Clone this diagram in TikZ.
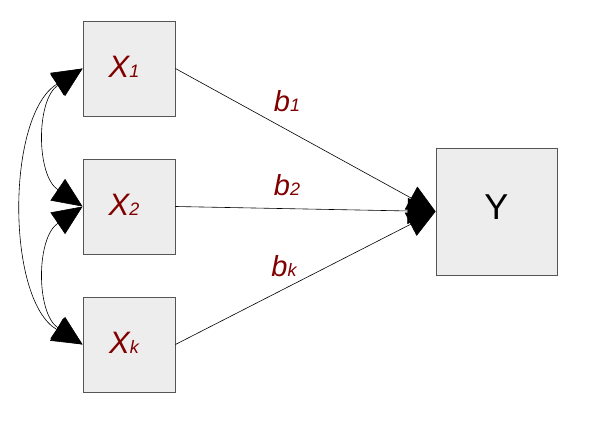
\documentclass[tikz,border=0pt]{standalone}
\usepackage{fontspec}
\setmainfont{Liberation Sans}
\usetikzlibrary{arrows.meta}
\definecolor{boxfill}{HTML}{EDEDED}
\definecolor{boxline}{HTML}{555555}
\definecolor{lab}{HTML}{800000}
\begin{document}
\begin{tikzpicture}[x=1pt,y=-1pt,
  var/.style={draw=boxline,fill=boxfill,line width=0.8pt,minimum width=92pt,minimum height=95pt,inner sep=0pt},
  big/.style={-{Triangle[length=28pt,width=26pt]},line width=0.6pt},
  dbl/.style={{Triangle[length=30pt,width=26pt]}-{Triangle[length=30pt,width=26pt]},line width=0.6pt},
  xl/.style={text=lab,font=\fontsize{31}{34}\selectfont\itshape},
  bl/.style={text=lab,font=\fontsize{29}{32}\selectfont\itshape}]
\useasboundingbox (0,0) rectangle (592,425);
\node[var] (x1) at (129,68.5) {};
\node[var] (x2) at (129,206.5) {};
\node[var] (xk) at (129,344.5) {};
\node[var,minimum width=121pt,minimum height=127pt] (y) at (496.5,211.5) {};
\node[xl] at ([xshift=-5pt,yshift=2pt]x1.center) {X{\fontsize{18}{20}\selectfont 1}};
\node[xl] at ([xshift=-5pt,yshift=2pt]x2.center) {X{\fontsize{18}{20}\selectfont 2}};
\node[xl] at ([xshift=-5pt,yshift=2pt]xk.center) {X{\fontsize{18}{20}\selectfont k}};
\node[font=\fontsize{36}{40}\selectfont] at ([yshift=4pt]y.center) {Y};
\draw[big] (x1.east) -- (y.west);
\draw[big] (x2.east) -- (y.west);
\draw[big] (xk.east) -- (y.west);
\node[bl] (b1) at (287,101) {b{\fontsize{18}{20}\selectfont 1}};
\node[bl] (b2) at (287,185) {b{\fontsize{18}{20}\selectfont 2}};
\node[bl] (bk) at (284,266) {b{\fontsize{18}{20}\selectfont k}};
\draw[dbl] (x1.west) .. controls (36,100) and (36,175) .. (x2.west);
\draw[dbl] (x2.west) .. controls (36,238) and (36,313) .. (xk.west);
\draw[dbl] (x1.west) .. controls (6,115) and (6,300) .. (xk.west);
\end{tikzpicture}
\end{document}
